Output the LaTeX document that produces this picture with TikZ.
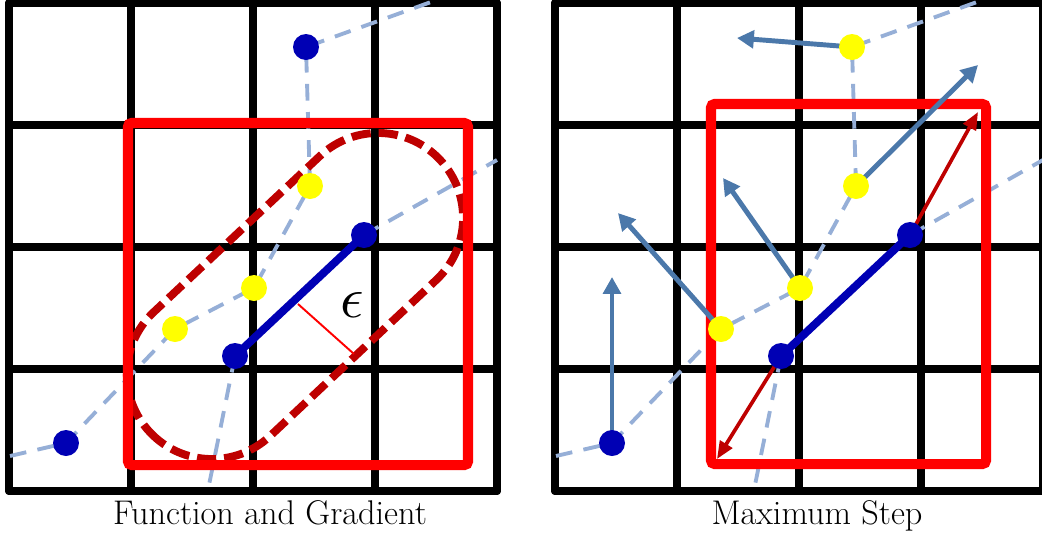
\documentclass[tikz,border=0pt]{standalone}
\usepackage{tikz}
\usetikzlibrary{arrows.meta}
\definecolor{dotblue}{RGB}{0,0,180}
\definecolor{dotyellow}{RGB}{255,255,0}
\definecolor{pathblue}{RGB}{150,175,215}
\definecolor{steel}{RGB}{75,120,170}
\definecolor{boxred}{RGB}{255,0,0}
\definecolor{capred}{RGB}{190,0,0}

\begin{document}
\begin{tikzpicture}[x=0.02cm, y=-0.02cm,
  gridline/.style={line width=4.5pt, line cap=round},
  redbox/.style={draw=boxred, line width=5.7pt, rounded corners=2pt},
  track/.style={draw=pathblue, line width=2.2pt, dash pattern=on 9.5pt off 6.5pt},
  bdot/.style={circle, fill=dotblue, minimum size=0.52cm, inner sep=0pt},
  ydot/.style={circle, fill=dotyellow, minimum size=0.52cm, inner sep=0pt},
  seg/.style={dotblue, line width=4.5pt},
  grad/.style={steel, line width=2.8pt, -{Triangle[length=9.6pt, width=10pt]}},
  maxstep/.style={capred, line width=2.1pt, -{Triangle[length=10pt, width=8pt]}},
  capsule/.style={capred, line width=4.5pt, dash pattern=on 11pt off 4.5pt,
                  rounded corners=1.7cm},
  caption/.style={font=\fontsize{19.5}{23}\selectfont, anchor=base}]
  \useasboundingbox (0,0) rectangle (1042,535);

  % ---- Function and Gradient ----
  \foreach \k in {0,...,4} {
    \draw[gridline] (9+122*\k,3) -- (9+122*\k,491);
    \draw[gridline] (9,3+122*\k) -- (497,3+122*\k);
  }
  % Points
  \coordinate (lbl) at (66,443);
  \coordinate (lp2) at (175,329);
  \coordinate (lp3) at (254,288);
  \coordinate (lp4) at (310,186);
  \coordinate (ltop) at (306,47);
  \coordinate (ls1) at (235,356);
  \coordinate (ls2) at (364,235);
  \coordinate (le1) at (10,456);
  \coordinate (le2) at (431,2);
  \coordinate (le3) at (497,160);
  \coordinate (le4) at (208,490);
  % Dashed tracks
  \draw[track] (le1) -- (lbl) -- (lp2) -- (lp3) -- (lp4) -- (ltop) -- (le2);
  \draw[track] (ls2) -- (le3);
  \draw[track] (ls1) -- (le4);
  % Trust region
  \begin{scope}[shift={(295,296)}, rotate=43.2]
    \draw[capsule] (-199,-85) rectangle (199,85);
  \end{scope}
  \draw[redbox] (128,123) rectangle (468,465);
  % Epsilon
  \coordinate (lea) at (298,304);
  \coordinate (leb) at (354,354);
  \draw[boxred, line width=1.1pt] (lea) -- (leb);
  \node[scale=3.3] (leps) at (352,305) {$\epsilon$};
  \draw[seg] (ls1) -- (ls2);
  \foreach \p in {lbl,ltop,ls1,ls2}
    \node[bdot] (\p-dot) at (\p) {};
  \foreach \p in {lp2,lp3,lp4}
    \node[ydot] (\p-dot) at (\p) {};
  \node[caption] (lcap) at (270,524) {Function and Gradient};

  % ---- Maximum Step ----
  \begin{scope}[shift={(546,0)}]
    \foreach \k in {0,...,4} {
      \draw[gridline] (9+122*\k,3) -- (9+122*\k,491);
      \draw[gridline] (9,3+122*\k) -- (497,3+122*\k);
    }
    % Points
    \coordinate (rbl) at (66,443);
    \coordinate (rp2) at (175,329);
    \coordinate (rp3) at (254,288);
    \coordinate (rp4) at (310,186);
    \coordinate (rtop) at (306,47);
    \coordinate (rs1) at (235,356);
    \coordinate (rs2) at (364,235);
    \coordinate (re1) at (10,456);
    \coordinate (re2) at (431,2);
    \coordinate (re3) at (497,160);
    \coordinate (re4) at (208,490);
    % Arrow tips
    \coordinate (rt1) at (66,277);
    \coordinate (rt2) at (72,213);
    \coordinate (rt3) at (177,178);
    \coordinate (rt4) at (432,65);
    \coordinate (rt5) at (191,38);
    \coordinate (rm1) at (171,459);
    \coordinate (rm2) at (432,112);
    % Dashed tracks
    \draw[track] (re1) -- (rbl) -- (rp2) -- (rp3) -- (rp4) -- (rtop) -- (re2);
    \draw[track] (rs2) -- (re3);
    \draw[track] (rs1) -- (re4);
    \draw[redbox] (165,104) rectangle (440,464);
    % Steps
    \draw[maxstep] (rs1) -- (rm1);
    \draw[maxstep] (rs2) -- (rm2);
    \draw[grad] (rbl) -- (rt1);
    \draw[grad] (rp2) -- (rt2);
    \draw[grad] (rp3) -- (rt3);
    \draw[grad] (rp4) -- (rt4);
    \draw[grad] (rtop) -- (rt5);
    \draw[seg] (rs1) -- (rs2);
    \foreach \p in {rbl,rs1,rs2}
      \node[bdot] (\p-dot) at (\p) {};
    \foreach \p in {rp2,rp3,rp4,rtop}
      \node[ydot] (\p-dot) at (\p) {};
    \node[caption] (rcap) at (271,524) {Maximum Step};
  \end{scope}
\end{tikzpicture}
\end{document}
